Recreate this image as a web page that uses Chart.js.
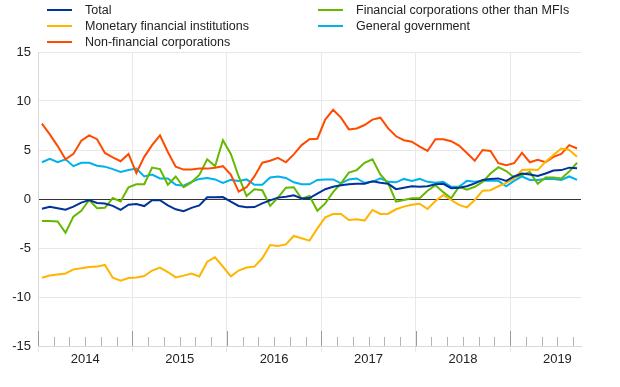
<!DOCTYPE html>
<html><head><meta charset="utf-8">
<script src="https://cdn.jsdelivr.net/npm/chart.js@4.4.1/dist/chart.umd.min.js"></script>
<style>
html,body{margin:0;padding:0;background:#fff;}
#wrap{position:relative;width:620px;height:387px;}
#legend{position:absolute;left:0;top:0;width:620px;height:50px;font-family:'Liberation Sans',Arial,sans-serif;font-size:12.5px;color:#222;}
.li{position:absolute;height:16px;line-height:16px;white-space:nowrap;}
.li .sw{position:absolute;left:0;top:7px;width:25px;height:2px;}
.li .tx{position:absolute;left:38px;top:0;}
</style></head>
<body><div id="wrap"><canvas id="c" width="620" height="387"></canvas><div id="legend"></div></div>
<script>
const years = ['2014','2015','2016','2017','2018','2019'];
const seriesNames = ['Total','Monetary financial institutions','Non-financial corporations','Financial corporations other than MFIs','General government'];
const seriesColors = ['#003299','#ffb400','#ff4b00','#65b800','#00b1ea'];

// monthly values, Jan 2014 - Sep 2019
const total = [-1.0,-0.8,-0.95,-1.1,-0.78,-0.37,-0.1,-0.4,-0.47,-0.7,-1.1,-0.58,
  -0.52,-0.72,-0.12,-0.12,-0.65,-1.05,-1.25,-0.9,-0.66,0.17,0.17,0.2,
  -0.27,-0.71,-0.85,-0.82,-0.44,-0.14,0.14,0.24,0.37,0.05,0.1,0.55,
  1.0,1.25,1.4,1.5,1.55,1.55,1.8,1.65,1.55,1.0,1.15,1.3,
  1.25,1.3,1.5,1.55,1.1,1.15,1.3,1.6,1.95,2.05,2.1,1.85,
  2.3,2.6,2.5,2.35,2.6,2.9,2.95,3.2,3.15];
const mfi = [-8.03,-7.8,-7.7,-7.6,-7.18,-7.07,-6.94,-6.9,-6.73,-8.03,-8.33,-8.06,
  -8.0,-7.86,-7.3,-7.0,-7.45,-8.0,-7.82,-7.6,-7.9,-6.4,-5.95,-6.9,
  -7.9,-7.3,-7.0,-6.9,-6.05,-4.7,-4.8,-4.63,-3.77,-4.0,-4.25,-3.0,
  -1.87,-1.53,-1.53,-2.14,-2.07,-2.2,-1.12,-1.53,-1.5,-1.05,-0.78,-0.58,
  -0.48,-1.02,-0.2,0.4,-0.1,-0.6,-0.85,-0.1,0.85,0.9,1.3,1.65,
  2.1,2.95,3.0,2.95,3.8,4.5,5.15,5.0,4.3];
const nfc = [7.7,6.6,5.4,4.05,4.6,5.95,6.5,6.1,4.7,4.25,3.85,4.6,
  2.65,4.3,5.5,6.5,4.8,3.3,3.0,3.0,3.1,3.1,3.2,3.35,
  2.5,0.75,1.2,2.3,3.7,3.9,4.2,3.75,4.55,5.5,6.1,6.15,
  8.1,9.1,8.3,7.1,7.2,7.55,8.1,8.3,7.2,6.4,6.0,5.85,
  5.35,4.9,6.1,6.1,5.9,5.45,4.7,3.9,5.0,4.9,3.65,3.45,
  3.65,4.7,3.75,4.0,3.75,4.3,4.6,5.5,5.15];
const ofi = [-2.25,-2.25,-2.3,-3.45,-1.8,-1.2,-0.1,-0.95,-0.9,0.1,-0.25,1.2,
  1.5,1.5,3.2,3.05,1.45,2.3,1.2,1.7,2.45,4.05,3.35,6.0,
  4.6,2.3,0.3,1.0,0.9,-0.7,0.15,1.15,1.2,0.03,0.3,-1.2,
  -0.45,0.7,1.6,2.7,2.95,3.7,4.05,2.5,1.6,-0.27,-0.1,0.07,
  0.07,0.85,1.4,0.7,0.07,1.25,0.95,1.25,1.75,2.6,3.25,2.85,
  2.2,2.45,2.75,1.55,2.2,2.2,2.1,2.8,3.7];
const gov = [3.75,4.1,3.75,4.05,3.35,3.7,3.7,3.4,3.3,3.05,2.75,2.95,
  3.1,2.3,2.5,2.1,2.1,1.45,1.35,1.75,2.05,2.15,2.0,1.65,
  1.95,1.85,2.0,1.45,1.45,2.2,2.3,2.15,1.7,1.5,1.5,1.95,
  2.0,2.0,1.6,2.0,2.1,1.65,1.75,2.1,1.75,1.7,2.05,1.85,
  2.05,1.75,1.65,1.75,1.25,1.25,1.85,1.75,1.85,1.85,1.85,1.3,
  1.85,2.3,1.95,1.95,2.05,2.05,1.95,2.3,1.95];

const seriesValues = [total, mfi, nfc, ofi, gov];
const nMonths = total.length;

// legend (real text)
const legend = document.getElementById('legend');
const legendPos = [[47,2],[47,18],[47,34],[318,2],[318,18]];
seriesNames.forEach((name,i)=>{
  const d = document.createElement('div');
  d.className='li';
  d.style.left = legendPos[i][0]+'px';
  d.style.top = legendPos[i][1]+'px';
  d.innerHTML = '<span class="sw" style="background:'+seriesColors[i]+'"></span><span class="tx"></span>';
  d.querySelector('.tx').textContent = name;
  legend.appendChild(d);
});

Chart.defaults.font.family = "'Liberation Sans', Arial, sans-serif";
Chart.defaults.color = '#222';

const innerTicks = {
  id:'innerTicks',
  beforeDatasetsDraw(chart){
    const xs = chart.scales.x, ctx = chart.ctx, bottom = chart.chartArea.bottom;
    ctx.save();
    ctx.lineWidth = 1;
    xs.ticks.forEach(t=>{
      const v = t.value;
      const major = v % 12 === 0;
      const px = Math.round(xs.getPixelForValue(v)) + 0.5;
      ctx.strokeStyle = major ? '#9a9a9a' : '#b5b5b5';
      ctx.beginPath();
      ctx.moveTo(px, bottom - (major ? 15 : 9));
      ctx.lineTo(px, bottom);
      ctx.stroke();
    });
    ctx.restore();
  }
};

const tickVals = [];
for (let v = 0; v < nMonths; v += 2) tickVals.push(v);

new Chart(document.getElementById('c'), {
  type:'line',
  data:{
    datasets: seriesValues.map((arr,k)=>({
      label: seriesNames[k],
      data: arr.map((y,i)=>({x:i+0.5, y:y})),
      borderColor: seriesColors[k],
      backgroundColor: seriesColors[k],
      borderWidth: 2,
      pointRadius: 0,
      tension: 0,
      fill: false
    }))
  },
  options:{
    responsive:false,
    animation:false,
    devicePixelRatio:1,
    layout:{padding:{top:52,right:39,bottom:0,left:0}},
    plugins:{legend:{display:false}, tooltip:{enabled:false}},
    scales:{
      x:{
        type:'linear', min:0, max:nMonths,
        afterBuildTicks(s){ s.ticks = tickVals.map(v=>({value:v})); },
        ticks:{autoSkip:false, maxRotation:0, minRotation:0, padding:0, font:{size:13},
          callback:(v)=> (v % 12 === 6) ? years[(v-6)/12] : ''},
        grid:{color:(c)=> (c.tick && c.tick.value % 12 === 0) ? '#e8e8e8' : 'rgba(0,0,0,0)', tickLength:6, drawTicks:true},
        border:{color:'#d9d9d9'},
        afterFit(s){ s.height = 41; }
      },
      y:{
        min:-15, max:15,
        ticks:{stepSize:5, padding:7, font:{size:13}},
        grid:{color:(c)=> (c.tick && c.tick.value === 0) ? '#333333' : '#e8e8e8', drawTicks:false},
        border:{color:'#d9d9d9'},
        afterFit(s){ s.width = 38; }
      }
    }
  },
  plugins:[innerTicks]
});
</script>
</body></html>
